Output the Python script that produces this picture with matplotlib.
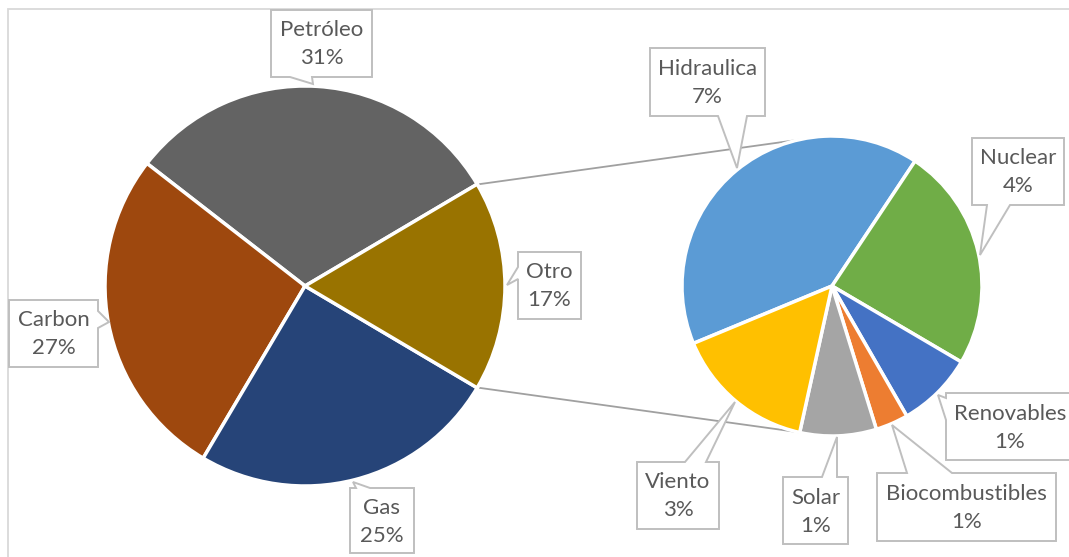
import matplotlib
matplotlib.use("Agg")
import matplotlib.pyplot as plt
from matplotlib.patches import Polygon, Rectangle
import numpy as np

# ---- data ----
main_labels = ["Petróleo", "Carbon", "Gas", "Otro"]
main_values = [31, 27, 25, 17]
main_colors = ["#636363", "#9E480E", "#264478", "#997300"]

sub_labels = ["Hidraulica", "Nuclear", "Renovables", "Biocombustibles", "Solar", "Viento"]
sub_values = [6.9, 4.1, 1.4, 0.6, 1.4, 2.6]
sub_colors = ["#5B9BD5", "#70AD47", "#4472C4", "#ED7D31", "#A5A5A5", "#FFC000"]

W, H = 1069, 557
fig = plt.figure(figsize=(W / 100, H / 100), dpi=100)
ax = fig.add_axes([0, 0, 1, 1])
ax.set_xlim(0, W)
ax.set_ylim(0, H)
ax.set_aspect("equal")
ax.axis("off")

def P(x, y):
    return (x, H - y)

# chart border
ax.add_patch(Rectangle(P(8, 580), 1100, 571, fill=False, edgecolor="#D9D9D9", lw=1.3, zorder=0))

main_c = (305, 286); main_r = 200
sub_c = (832, 286); sub_r = 150

total = sum(main_values)
otro_half = main_values[-1] / total * 360 / 2
wp = dict(edgecolor="white", linewidth=2.5)
ax.pie(main_values, colors=main_colors, startangle=otro_half, counterclock=True,
       center=P(*main_c), radius=main_r, wedgeprops=wp, frame=True)
ax.pie(sub_values, colors=sub_colors, startangle=202.5, counterclock=False,
       center=P(*sub_c), radius=sub_r, wedgeprops=wp, frame=True)
ax.set_xlim(0, W)
ax.set_ylim(0, H)
ax.axis("off")

# connector lines
for sgn in (1, -1):
    a1 = np.deg2rad(sgn * otro_half)
    a2 = np.deg2rad(sgn * 103)
    x1 = main_c[0] + main_r * np.cos(a1); y1 = main_c[1] - main_r * np.sin(a1)
    x2 = sub_c[0] + sub_r * np.cos(a2); y2 = sub_c[1] - sub_r * np.sin(a2)
    ax.plot([x1 + 2, x2], [H - y1, H - y2], color="#A0A0A0", lw=1.3, zorder=0.5,
            solid_capstyle="butt")

def callout(box, side, base, apex, text):
    x0, y0, x1, y1 = box
    b0, b1 = base
    if side == "bottom":
        pts = [(x0, y0), (x1, y0), (x1, y1), (b1, y1), apex, (b0, y1), (x0, y1)]
    elif side == "top":
        pts = [(x0, y0), (b0, y0), apex, (b1, y0), (x1, y0), (x1, y1), (x0, y1)]
    elif side == "left":
        pts = [(x0, y0), (x1, y0), (x1, y1), (x0, y1), (x0, b1), apex, (x0, b0)]
    else:  # right
        pts = [(x0, y0), (x1, y0), (x1, b0), apex, (x1, b1), (x1, y1), (x0, y1)]
    poly = Polygon([P(*p) for p in pts], closed=True, facecolor="white",
                   edgecolor="#BFBFBF", lw=1.4, zorder=5, joinstyle="miter")
    ax.add_patch(poly)
    cx = (x0 + x1) / 2; cy = (y0 + y1) / 2
    ax.text(*P(cx, cy + 1), text, ha="center", va="center", fontsize=16,
            color="#595959", family="Lato", linespacing=1.5, zorder=6)

main_boxes = {
    "Petróleo": ((271, 10, 372, 77), "bottom", (290, 312), (313, 84)),
    "Carbon": ((9, 300, 98, 367), "right", (311, 328), (109, 322)),
    "Gas": ((350, 488, 414, 553), "top", (356, 370), (353, 482)),
    "Otro": ((518, 252, 581, 319), "left", (267, 279), (507, 285)),
}
sub_boxes = {
    "Hidraulica": ((650, 48, 765, 116), "bottom", (718, 747), (737, 168)),
    "Nuclear": ((972, 138, 1064, 205), "bottom", (987, 1010), (980, 255)),
    "Renovables": ((946, 393, 1074, 460), "left", (398, 420), (938, 395)),
    "Biocombustibles": ((877, 473, 1056, 541), "top", (907, 952), (892, 425)),
    "Solar": ((783, 477, 848, 544), "top", (822, 837), (837, 437)),
    "Viento": ((637, 462, 719, 529), "top", (685, 706), (735, 402)),
}

for lab, v in zip(main_labels, main_values):
    box, side, base, apex = main_boxes[lab]
    callout(box, side, base, apex, f"{lab}\n{round(v / total * 100)}%")
for lab, v in zip(sub_labels, sub_values):
    box, side, base, apex = sub_boxes[lab]
    callout(box, side, base, apex, f"{lab}\n{round(v / total * 100)}%")

fig.savefig("out.png", dpi=100, facecolor="white")
